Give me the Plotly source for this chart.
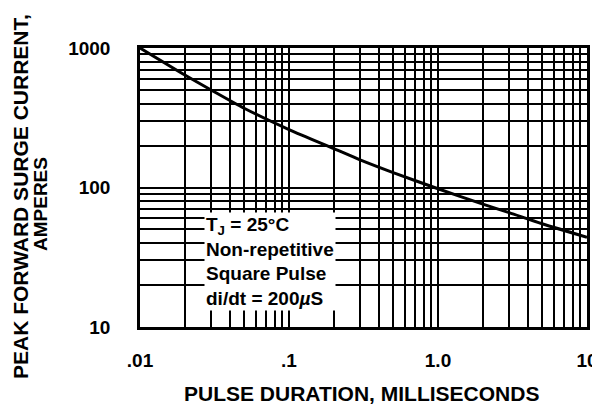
import plotly.graph_objects as go

# Pulse duration (ms) and peak surge current (A)
pulse_ms = [0.01, 0.02, 0.03, 0.05, 0.1, 0.2, 0.3, 0.5, 1.0, 2.0, 3.0, 5.0, 10.0]
surge_a = [1000, 640, 500, 370, 260, 190, 158, 128, 98, 76, 66, 55, 44]

x_tickvals = [0.01, 0.1, 1.0, 10]
x_ticktext = [".01", ".1", "1.0", "10"]
y_tickvals = [10, 100, 1000]
y_ticktext = ["10", "100", "1000"]

x_minor = [m * d for d in (0.01, 0.1, 1.0) for m in range(2, 10)]
y_minor = [m * d for d in (10, 100) for m in range(2, 10)]

FONT = "Liberation Sans, Arial, Helvetica, sans-serif"

# page body adds an 8px offset; lay out in screen pixels minus that offset
OFF = 8
PW, PH = 447, 279
L, T = 140 - OFF, 48 - OFF
W, H = 600, 413

fig = go.Figure()
fig.add_trace(go.Scatter(x=pulse_ms, y=surge_a, mode="lines",
                         line=dict(color="black", width=3, shape="spline", smoothing=0.8),
                         showlegend=False, hoverinfo="skip"))

axis_common = dict(showline=True, mirror=True, linecolor="black", linewidth=2.5,
                   showgrid=True, gridcolor="black", gridwidth=2, zeroline=False,
                   ticks="", automargin=False,
                   tickfont=dict(family=FONT, size=19, color="black"))

fig.update_xaxes(type="log", range=[-2, 1], tickmode="array",
                 tickvals=x_tickvals, ticktext=["<b>%s</b>" % t for t in x_ticktext],
                 ticklabelstandoff=14,
                 minor=dict(tickvals=x_minor, showgrid=True, gridcolor="black",
                            gridwidth=2, ticks=""),
                 **axis_common)
fig.update_yaxes(type="log", range=[1, 3], tickmode="array",
                 tickvals=y_tickvals, ticktext=["<b>%s</b>" % t for t in y_ticktext],
                 ticklabelstandoff=23,
                 minor=dict(tickvals=y_minor, showgrid=True, gridcolor="black",
                            gridwidth=2, ticks=""),
                 **axis_common)


def px(xs):
    return (xs - OFF - L) / PW


def py(ys):
    return (T + PH - (ys - OFF)) / PH


fig.add_annotation(xref="paper", yref="paper", x=px(204), y=py(212), xanchor="left",
                   yanchor="top", align="left", showarrow=False, bgcolor="white",
                   borderpad=1,
                   text="<b>T<sub>J</sub> = 25°C<br>Non-repetitive<br>Square Pulse<br>di/dt = 200<i>µ</i>S</b>",
                   font=dict(family=FONT, size=19, color="black"))

fig.add_annotation(xref="paper", yref="paper", x=px(361), y=py(393),
                   xanchor="center", yanchor="middle", showarrow=False,
                   text="<b>PULSE DURATION, MILLISECONDS</b>",
                   font=dict(family=FONT, size=21, color="black"))
fig.add_annotation(xref="paper", yref="paper", x=px(20), y=py(197),
                   xanchor="center", yanchor="middle", showarrow=False, textangle=-90,
                   text="<b>PEAK FORWARD SURGE CURRENT,</b>",
                   font=dict(family=FONT, size=21, color="black"))
fig.add_annotation(xref="paper", yref="paper", x=px(41), y=py(204),
                   xanchor="center", yanchor="middle", showarrow=False, textangle=-90,
                   text="<b>AMPERES</b>",
                   font=dict(family=FONT, size=19, color="black"))

fig.update_layout(width=W, height=H, margin=dict(l=L, r=W - L - PW, t=T, b=H - T - PH),
                  paper_bgcolor="white", plot_bgcolor="white",
                  font=dict(family=FONT, color="black"))

fig.write_html("out.html")
